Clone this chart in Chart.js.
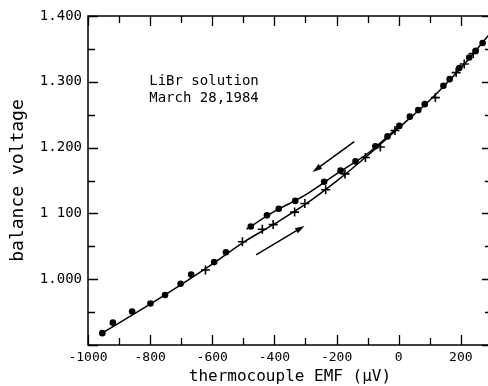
<!DOCTYPE html>
<html>
<head>
<meta charset="utf-8">
<script src="https://cdn.jsdelivr.net/npm/chart.js@4.4.0/dist/chart.umd.min.js"></script>
<style>
  html, body { margin: 0; padding: 0; background: #fff; overflow: hidden; }
  #wrap { width: 498px; height: 386px; }
</style>
</head>
<body>
<div id="wrap"><canvas id="emfChart" width="498" height="386"></canvas></div>
<script>
'use strict';
// run with falling temperature (dots): thermocouple emf in uV, balance voltage in V
let coolEmf = [270, 248, 227, 195, 164, 144, 84, 63, 36, 2, -36, -75, -139, -187, -240, -333, -386, -424, -476,
    -556, -594, -668, -702, -752, -799, -858, -920, -954];
let coolVolt = [1.359, 1.347, 1.337, 1.321, 1.304, 1.294, 1.266, 1.257, 1.247, 1.233, 1.217, 1.202, 1.179, 1.165, 1.148, 1.119, 1.107, 1.097, 1.080,
    1.041, 1.026, 1.007, 0.993, 0.976, 0.963, 0.951, 0.934, 0.918];
// run with rising temperature (crosses)
let heatEmf = [-622, -503, -439, -404, -335, -302, -235, -173, -107, -59, -12, 118, 185, 211, 240];
let heatVolt = [1.014, 1.057, 1.076, 1.083, 1.102, 1.115, 1.136, 1.160, 1.185, 1.201, 1.226, 1.276, 1.314, 1.327, 1.343];
// smooth curves through the two runs
let upperCurveEmf = [-490, -400, -300, -200, -100, 0];
let upperCurveVolt = [1.076, 1.103, 1.128, 1.160, 1.191, 1.232];
let lowerCurveEmf = [-955, -800, -600, -500, -400, -300, -200, -100, 0, 100, 200, 290];
let lowerCurveVolt = [0.918, 0.962, 1.023, 1.056, 1.084, 1.114, 1.149, 1.188, 1.230, 1.272, 1.321, 1.371];
let xTicks = [-1000, -800, -600, -400, -200, 0, 200];
let yTicks = [1.0, 1.1, 1.2, 1.3, 1.4];
let yTickLabels = ['1.000', '1 100', '1.200', '1.300', '1.400'];
let noteLines = ['LiBr solution', 'March 28,1984'];

let monoFont = '"DejaVu Sans Mono", monospace';

function toPoints(xs, ys) {
    let pts = [];
    for (let i = 0; i < xs.length; i++) {
        pts.push({ x: xs[i], y: ys[i] });
    }
    return pts;
}

// arrows showing the direction of each run, in data units
let arrows = [
    { from: [-143, 1.209], to: [-277, 1.163] },
    { from: [-459, 1.037], to: [-303, 1.081] }
];

let frameTicks = {
    id: 'frameTicks',
    afterDatasetsDraw(chart) {
        let ctx = chart.ctx;
        let a = chart.chartArea;
        let xs = chart.scales.x;
        let ys = chart.scales.y;
        ctx.save();
        ctx.strokeStyle = '#000';
        ctx.lineWidth = 1.5;
        ctx.strokeRect(a.left, a.top, a.right - a.left, a.bottom - a.top);
        ctx.lineWidth = 1.3;
        ctx.beginPath();
        for (let v = -1000; v <= 300; v += 100) {
            let px = Math.round(xs.getPixelForValue(v)) + 0.5;
            let len = xTicks.includes(v) ? 10 : 7;
            ctx.moveTo(px, a.bottom);
            ctx.lineTo(px, a.bottom - len);
            ctx.moveTo(px, a.top);
            ctx.lineTo(px, a.top + len);
        }
        for (let k = 0; k <= 10; k++) {
            let v = 0.9 + k * 0.05;
            let py = Math.round(ys.getPixelForValue(v)) + 0.5;
            let len = k % 2 === 0 ? 10 : 7;
            ctx.moveTo(a.left, py);
            ctx.lineTo(a.left + len, py);
            ctx.moveTo(a.right, py);
            ctx.lineTo(a.right - len, py);
        }
        ctx.stroke();

        // direction arrows
        ctx.lineWidth = 1.5;
        ctx.fillStyle = '#000';
        arrows.forEach(function (ar) {
            let x1 = xs.getPixelForValue(ar.from[0]);
            let y1 = ys.getPixelForValue(ar.from[1]);
            let x2 = xs.getPixelForValue(ar.to[0]);
            let y2 = ys.getPixelForValue(ar.to[1]);
            let ang = Math.atan2(y2 - y1, x2 - x1);
            ctx.beginPath();
            ctx.moveTo(x1, y1);
            ctx.lineTo(x2 - 6 * Math.cos(ang), y2 - 6 * Math.sin(ang));
            ctx.stroke();
            ctx.beginPath();
            ctx.moveTo(x2, y2);
            ctx.lineTo(x2 - 10 * Math.cos(ang - 0.3), y2 - 10 * Math.sin(ang - 0.3));
            ctx.lineTo(x2 - 10 * Math.cos(ang + 0.3), y2 - 10 * Math.sin(ang + 0.3));
            ctx.closePath();
            ctx.fill();
        });

        // sample note
        ctx.font = '14px ' + monoFont;
        ctx.textBaseline = 'alphabetic';
        ctx.textAlign = 'left';
        let nx = xs.getPixelForValue(-803);
        ctx.fillText(noteLines[0], nx, ys.getPixelForValue(1.295));
        ctx.fillText(noteLines[1], nx, ys.getPixelForValue(1.269));
        ctx.restore();
    }
};

let ctx = document.getElementById('emfChart').getContext('2d');
let emfChart = new Chart(ctx, {
    type: 'scatter',
    data: {
        datasets: [
            {
                label: 'cooling',
                data: toPoints(coolEmf, coolVolt),
                pointStyle: 'circle',
                pointRadius: 3.3,
                backgroundColor: '#000',
                borderColor: '#000',
                borderWidth: 0,
                order: 1
            },
            {
                label: 'heating',
                data: toPoints(heatEmf, heatVolt),
                pointStyle: 'cross',
                pointRadius: 4.5,
                borderColor: '#000',
                borderWidth: 1.6,
                order: 1
            },
            {
                label: 'upper curve',
                data: toPoints(upperCurveEmf, upperCurveVolt),
                showLine: true,
                pointRadius: 0,
                borderColor: '#000',
                borderWidth: 1.5,
                cubicInterpolationMode: 'monotone',
                order: 2
            },
            {
                label: 'lower curve',
                data: toPoints(lowerCurveEmf, lowerCurveVolt),
                showLine: true,
                pointRadius: 0,
                borderColor: '#000',
                borderWidth: 1.5,
                cubicInterpolationMode: 'monotone',
                order: 2
            }
        ]
    },
    options: {
        responsive: false,
        animation: false,
        devicePixelRatio: 1,
        layout: { padding: { top: 16, right: 2, left: 0, bottom: 0 } },
        plugins: {
            legend: { display: false },
            tooltip: { enabled: false }
        },
        scales: {
            x: {
                type: 'linear',
                min: -1000,
                max: 300,
                grid: { display: false, drawTicks: false },
                border: { display: false },
                afterBuildTicks: function (scale) {
                    scale.ticks = xTicks.map(function (v) { return { value: v }; });
                },
                afterFit: function (scale) { scale.height = 41; },
                ticks: {
                    color: '#000',
                    padding: 5,
                    font: { family: monoFont, size: 13 },
                    maxRotation: 0,
                    callback: function (v) { return String(v); }
                },
                title: {
                    display: true,
                    text: 'thermocouple EMF (\u03bcV)',
                    color: '#000',
                    padding: 0,
                    font: { family: monoFont, size: 16 }
                }
            },
            y: {
                type: 'linear',
                min: 0.9,
                max: 1.4,
                grid: { display: false, drawTicks: false },
                border: { display: false },
                afterBuildTicks: function (scale) {
                    scale.ticks = yTicks.map(function (v) { return { value: v }; });
                },
                afterFit: function (scale) { scale.width = 88; },
                ticks: {
                    color: '#000',
                    padding: 6,
                    font: { family: monoFont, size: 14 },
                    callback: function (v) { return yTickLabels[yTicks.indexOf(v)]; }
                },
                title: {
                    display: true,
                    text: 'balance voltage',
                    color: '#000',
                    padding: 8,
                    font: { family: monoFont, size: 18 }
                }
            }
        }
    },
    plugins: [frameTicks]
});
</script>
</body>
</html>
